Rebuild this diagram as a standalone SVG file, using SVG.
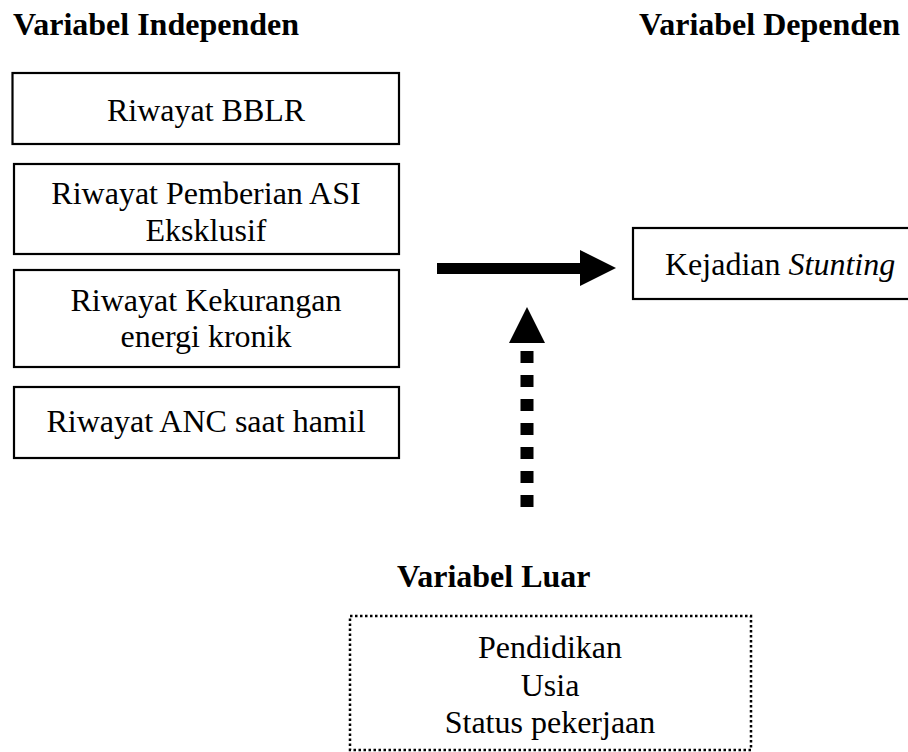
<svg xmlns="http://www.w3.org/2000/svg" width="908" height="752" viewBox="0 0 908 752">
<style>
text{font-family:"Liberation Serif","Times New Roman",serif;font-size:32px;fill:#000;}
.h{font-weight:bold;}
.c{text-anchor:middle;}
.box{fill:#fff;stroke:#000;stroke-width:2.2;}
.dot{fill:none;stroke:#000;stroke-width:2.5;stroke-dasharray:2.5 2.5;}
</style>
<rect width="908" height="752" fill="#fff"/>
<g id="titles">
<text class="h" x="13" y="35">Variabel Independen</text>
<text class="h" x="639" y="35">Variabel Dependen</text>
<text class="h" x="397" y="587">Variabel Luar</text>
</g>
<g id="n-bblr">
<rect class="box" x="12.5" y="73" width="386.5" height="71"/>
<text class="c" x="206" y="121">Riwayat BBLR</text>
</g>
<g id="n-asi">
<rect class="box" x="14" y="164" width="385" height="90"/>
<text class="c" x="206" y="204">Riwayat Pemberian ASI</text>
<text class="c" x="206" y="241">Eksklusif</text>
</g>
<g id="n-kek">
<rect class="box" x="14" y="270" width="385" height="97"/>
<text class="c" x="206" y="311">Riwayat Kekurangan</text>
<text class="c" x="206" y="347">energi kronik</text>
</g>
<g id="n-anc">
<rect class="box" x="14" y="387" width="385" height="71"/>
<text class="c" x="206" y="432">Riwayat ANC saat hamil</text>
</g>
<g id="n-stunting">
<rect class="box" x="633" y="228" width="280" height="71"/>
<text x="665" y="275">Kejadian <tspan font-style="italic">Stunting</tspan></text>
</g>
<g id="n-luar">
<rect class="dot" x="350" y="616" width="401" height="134"/>
<text class="c" x="550" y="658">Pendidikan</text>
<text class="c" x="550" y="696">Usia</text>
<text class="c" x="550" y="733">Status pekerjaan</text>
</g>
<g id="connectors">
<rect x="437" y="263" width="144" height="11" fill="#000"/>
<polygon points="580,250 616,268 580,286" fill="#000"/>
<line x1="527" y1="507" x2="527" y2="351" stroke="#000" stroke-width="13" stroke-dasharray="12 12"/>
<polygon points="509,343 545,343 527,307" fill="#000"/>
</g>
</svg>
